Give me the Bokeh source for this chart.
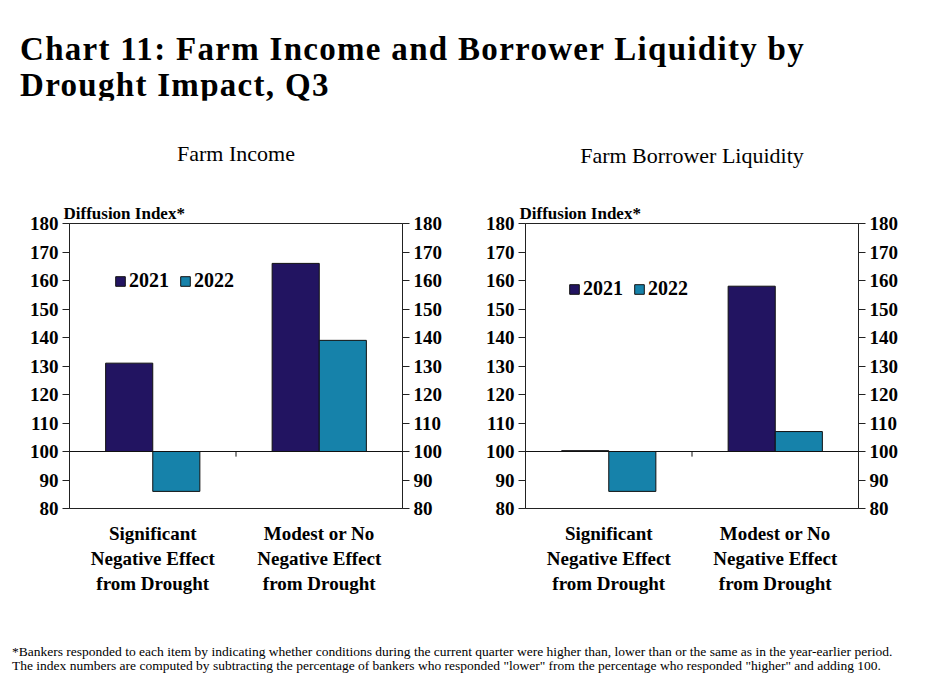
from bokeh.plotting import figure
from bokeh.models import (ColumnDataSource, FactorRange, Range1d, LinearAxis, FixedTicker,
                          Span, Title, Legend, LegendItem, Div)
from bokeh.layouts import column, row
from bokeh.transform import dodge
from bokeh.embed import file_html
from bokeh.resources import INLINE

# ---------------- data ----------------
categories = ["Significant\nNegative Effect\nfrom Drought",
              "Modest or No\nNegative Effect\nfrom Drought"]
series_names = ["2021", "2022"]
income_2021 = [131, 166]
income_2022 = [86, 139]
liquidity_2021 = [100.3, 158]
liquidity_2022 = [86, 107]
y_ticks = [80, 90, 100, 110, 120, 130, 140, 150, 160, 170, 180]
baseline = 100

colors = ["#221461", "#1682AA"]
SERIF = "Liberation Serif"


def make_panel(subtitle, v2021, v2022, width, b_left, b_right, legend_loc, sub_offset, sub_standoff):
    src = ColumnDataSource(dict(cat=categories, a=v2021, b=v2022,
                                base=[baseline] * len(categories)))
    p = figure(x_range=FactorRange(*categories, range_padding=0),
               y_range=Range1d(y_ticks[0], y_ticks[-1]),
               width=width, height=503,
               min_border_left=b_left, min_border_right=b_right,
               min_border_top=123, min_border_bottom=95,
               title=subtitle,
               output_backend="svg", toolbar_location=None)
    p.title.text_font = SERIF
    p.title.text_font_size = "22px"
    p.title.text_font_style = "normal"
    p.title.text_color = "black"
    p.title.align = "center"
    p.title.offset = sub_offset
    p.title.standoff = sub_standoff
    p.add_layout(Title(text="Diffusion Index*", align="left", text_font=SERIF,
                       text_font_size="17px", text_font_style="bold", text_color="black",
                       offset=-6, standoff=1), "above")

    r1 = p.vbar(x=dodge("cat", -0.1415, range=p.x_range), bottom="base", top="a",
                width=0.283, source=src, fill_color=colors[0], line_color="#111111",
                line_width=1)
    r2 = p.vbar(x=dodge("cat", 0.1415, range=p.x_range), bottom="base", top="b",
                width=0.283, source=src, fill_color=colors[1], line_color="#111111",
                line_width=1)

    p.add_layout(Span(location=baseline, dimension="width", line_color="#111111",
                      line_width=1))
    # category-boundary tick on the 100 line
    tick_src = ColumnDataSource(dict(cat=categories[:1], y0=[baseline], y1=[baseline - 1.8]))
    p.segment(x0=dodge("cat", 0.5, range=p.x_range), x1=dodge("cat", 0.5, range=p.x_range),
              y0="y0", y1="y1", source=tick_src, line_color="#111111", line_width=1)

    p.xgrid.visible = False
    p.ygrid.visible = False
    p.outline_line_color = "#222222"
    p.outline_line_width = 1
    p.background_fill_color = "white"
    p.border_fill_color = "white"

    ya = p.yaxis[0]
    ya.ticker = FixedTicker(ticks=y_ticks)
    yr = LinearAxis(ticker=FixedTicker(ticks=y_ticks))
    p.add_layout(yr, "right")
    for ax in (ya, yr):
        ax.major_tick_in = 0
        ax.major_tick_out = 7
        ax.minor_tick_line_color = None
        ax.axis_line_color = "#222222"
        ax.major_tick_line_color = "#222222"
        ax.major_label_text_font = SERIF
        ax.major_label_text_font_size = "19px"
        ax.major_label_text_font_style = "bold"
        ax.major_label_text_color = "black"
        ax.major_label_standoff = 4

    xa = p.xaxis[0]
    xa.axis_line_color = None
    xa.major_tick_line_color = None
    xa.minor_tick_line_color = None
    xa.major_label_text_font = SERIF
    xa.major_label_text_font_size = "19px"
    xa.major_label_text_font_style = "bold"
    xa.major_label_text_color = "black"
    xa.major_label_standoff = 8
    xa.major_label_orientation = "horizontal"

    leg = Legend(items=[LegendItem(label=series_names[0], renderers=[r1]),
                        LegendItem(label=series_names[1], renderers=[r2])],
                 location=legend_loc, orientation="horizontal")
    leg.background_fill_alpha = 0
    leg.border_line_color = None
    leg.padding = 0
    leg.margin = 0
    leg.spacing = 10
    leg.glyph_width = 12
    leg.glyph_height = 12
    leg.label_standoff = 3
    leg.label_text_font = SERIF
    leg.label_text_font_size = "20px"
    leg.label_text_font_style = "bold"
    leg.label_text_color = "black"
    p.add_layout(leg, "center")
    return p


p1 = make_panel("Farm Income", income_2021, income_2022, 469, 69, 67, (45, 216), -9, 71)
p2 = make_panel("Farm Borrower Liquidity", liquidity_2021, liquidity_2022, 448, 56, 59, (43, 208), 0, 68)

title_div = Div(text=("<div style=\"font-family:'Liberation Serif';font-weight:bold;"
                      "font-size:33px;letter-spacing:1.3px;line-height:36px;"
                      "padding:31px 0 0 20px;color:black;white-space:nowrap;\">"
                      "Chart 11: Farm Income and Borrower Liquidity by<br>Drought Impact, Q3</div>"),
                width=917, height=100, margin=0)

foot_div = Div(text=("<div style=\"font-family:'Liberation Serif';font-size:13.5px;"
                     "line-height:14px;padding:42px 0 0 12px;color:black;white-space:nowrap;\">"
                     "*Bankers responded to each item by indicating whether conditions during the current "
                     "quarter were higher than, lower than or the same as in the year-earlier period.<br>"
                     "The index numbers are computed by subtracting the percentage of bankers who responded "
                     "\"lower\" from the percentage who responded \"higher\" and adding 100.</div>"),
               width=917, height=80, margin=0)

layout = column(title_div, row(p1, p2, margin=0), foot_div, margin=0)
open("out.html", "w").write(file_html(layout, INLINE))
